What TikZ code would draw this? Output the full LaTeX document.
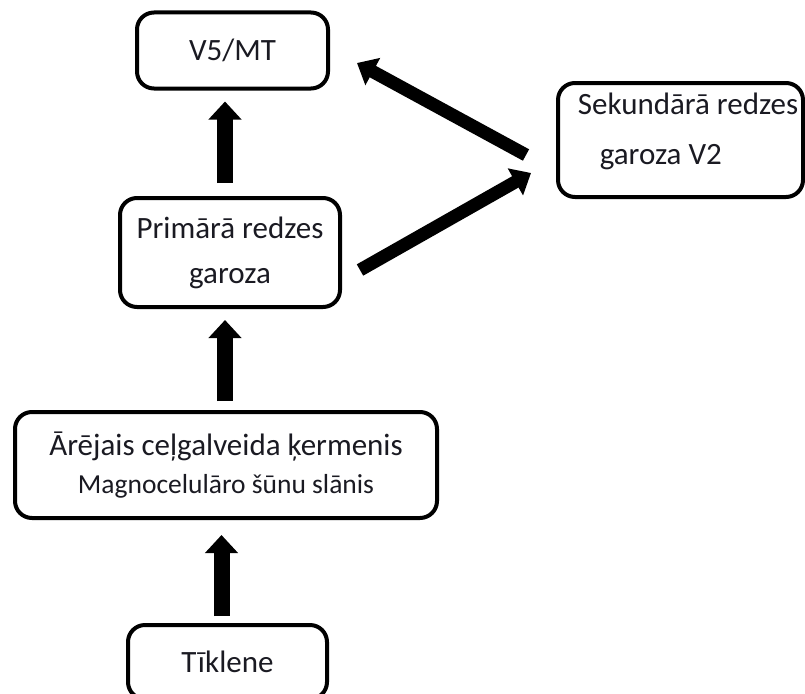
\documentclass[tikz,border=0pt]{standalone}
\usepackage{fontspec}
\setmainfont{Carlito}
\usepackage{tikz}
\usetikzlibrary{arrows.meta,calc}
\definecolor{ink}{HTML}{1A1A22}
\tikzset{
  areabox/.style={draw=black, line width=4pt, rounded corners=17pt, align=center, fill=white, text=ink, inner sep=0pt, font=\fontsize{31}{45}\selectfont},
  uparrow/.style={-{Triangle[length=18pt,width=32pt]}, line width=16pt, draw=black},
  sidearrow/.style={-{Triangle[length=18pt,width=30pt]}, line width=13pt, draw=black}
}

\begin{document}
\begin{tikzpicture}[x=1pt, y=-1pt]
  \useasboundingbox (0,0) rectangle (805,693);
  \node[areabox, minimum width=191pt, minimum height=76pt] (vmt) at (232.5,50.5) {V5/MT};
  \node[areabox, minimum width=245pt, minimum height=114pt, align=left, text depth=22pt] (sec) at (680.5,140) {\hspace*{15pt}Sekundārā redzes\\[5pt]\hspace*{37pt}garoza V2};
  \node[areabox, minimum width=220pt, minimum height=109pt] (prim) at (230,252.5) {Primārā redzes\\garoza};
  \node[areabox, minimum width=422pt, minimum height=106pt] (lgn) at (226,465) {Ārējais ceļgalveida ķermenis\\[-7pt]{\fontsize{27.5}{32}\selectfont Magnocelulāro šūnu slānis}};
  \node[areabox, minimum width=199pt, minimum height=74pt] (tik) at (227.5,662) {Tīklene};
  \draw[uparrow, shorten <=7pt, shorten >=15pt] ([xshift=-6pt]tik.north) -- ([xshift=-6pt]tik.north |- lgn.south);
  \draw[uparrow, shorten <=9pt, shorten >=11pt] ([xshift=-1pt]lgn.north) -- ([xshift=-1pt]lgn.north |- prim.south);
  \draw[uparrow, shorten <=13pt, shorten >=11pt] ([xshift=-5pt]prim.north) -- ([xshift=-5pt]prim.north |- vmt.south);
  \draw[sidearrow] ([shift={(18,17.5)}]prim.east) -- ([shift={(-25,33)}]sec.west);
  \draw[sidearrow] ([shift={(-30,15)}]sec.west) -- ([shift={(27,12.5)}]vmt.east);
\end{tikzpicture}
\end{document}
